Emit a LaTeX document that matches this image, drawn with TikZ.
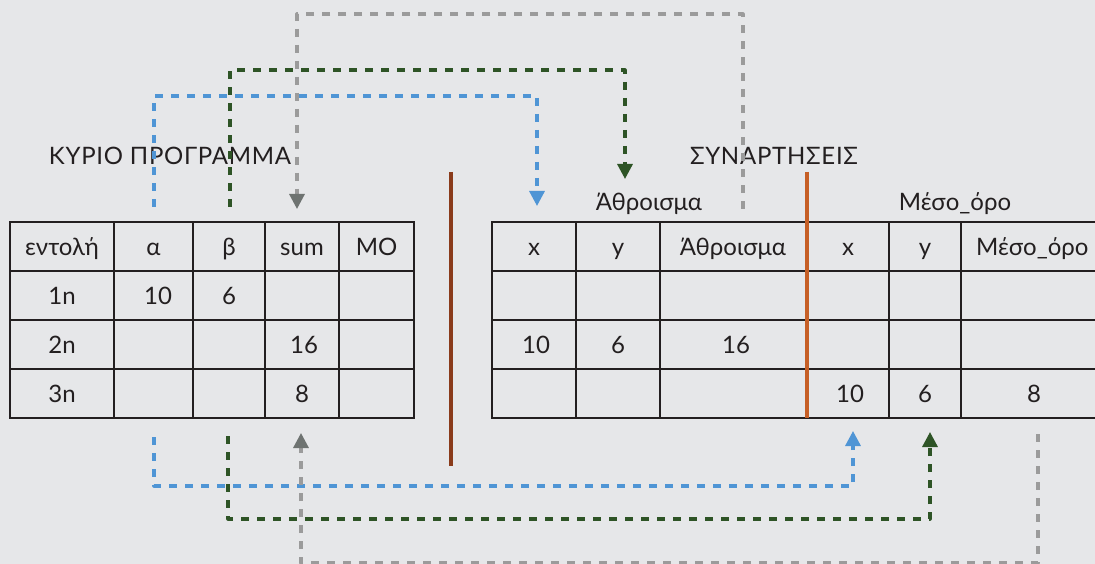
\documentclass[tikz,border=0pt]{standalone}
\usepackage{fontspec}
\setmainfont{Lato}
\usetikzlibrary{arrows.meta}
\definecolor{paper}{HTML}{E6E7E9}
\definecolor{ink}{HTML}{231F20}
\definecolor{callblue}{HTML}{4F95D5}
\definecolor{callgreen}{HTML}{2E5426}
\definecolor{retgray}{HTML}{9B9B9B}
\definecolor{retgrayhead}{HTML}{6E7371}
\definecolor{brownbar}{HTML}{8A3B1B}
\definecolor{orangebar}{HTML}{C65F26}
\tikzset{
  flow/.style={dash pattern=on 8pt off 8pt, line width=3.2pt},
  tablerule/.style={line width=2.6pt, draw=ink, line cap=rect},
  celltext/.style={inner sep=0pt, anchor=base, text=ink},
  titletext/.style={celltext, font=\fontsize{24}{28}\selectfont\addfontfeatures{LetterSpace=3}},
}
\begin{document}
\begin{tikzpicture}[x=1pt, y=-1pt, font=\fontsize{24}{28}\selectfont, line join=round]
			\useasboundingbox (0,0) rectangle (1095,564);
			\fill[paper] (0,0) rectangle (1095,564);
			\clip (0,0) rectangle (1095,564);
			\def\ytop{222}\def\ybot{418}
			% titles
			\node[titletext] (main-title) at (170,165) {ΚΥΡΙΟ ΠΡΟΓΡΑΜΜΑ};
			\node[titletext] (func-title) at (774,165) {ΣΥΝΑΡΤΗΣΕΙΣ};
			\node[celltext] (sum-title) at (649,211) {Άθροισμα};
			\node[celltext] (avg-title) at (955,211) {Μέσο\_όρο};
			% main program table
			\foreach \x in {10,114,193,265,339,414} \draw[tablerule] (\x,\ytop)--(\x,\ybot);
			\foreach \y in {222,271,320,369,418} \draw[tablerule] (10,\y)--(414,\y);
			\foreach \cx/\txt [count=\i] in {62/εντολή,153.5/α,229/β,302/sum,376.5/MO}
				\node[celltext] (main-0-\i) at (\cx,255.5) {\txt};
			\node[celltext] (main-1-1) at (62,304.5) {1n};
			\node[celltext] (main-1-2) at (158,304.5) {10};
			\node[celltext] (main-1-3) at (229,304.5) {6};
			\node[celltext] (main-2-1) at (62,353.5) {2n};
			\node[celltext] (main-2-4) at (304,353.5) {16};
			\node[celltext] (main-3-1) at (62,402.5) {3n};
			\node[celltext] (main-3-4) at (302,402.5) {8};
			% function tables
			\foreach \x in {492,576,660,889,961} \draw[tablerule] (\x,\ytop)--(\x,\ybot);
			\foreach \y in {222,271,320,369,418} \draw[tablerule] (492,\y)--(1110,\y);
			\foreach \cx/\txt [count=\i] in {534/x,618/y,733/Άθροισμα,848/x,925/y}
				\node[celltext] (func-0-\i) at (\cx,255.5) {\txt};
			\node[celltext, anchor=base west] (func-0-6) at (976,255.5) {Μέσο\_όρο};
			\node[celltext] (func-2-1) at (536,353.5) {10};
			\node[celltext] (func-2-2) at (618,353.5) {6};
			\node[celltext] (func-2-3) at (736,353.5) {16};
			\node[celltext] (func-3-4) at (850,402.5) {10};
			\node[celltext] (func-3-5) at (925,402.5) {6};
			\node[celltext] (func-3-6) at (1034,402.5) {8};
			% separators
			\draw[brownbar, line width=4.5pt] (451,172)--(451,466);
			\draw[orangebar, line width=4.5pt] (807,172)--(807,\ybot);
			% calls: arguments in
			\coordinate (blue-top) at (0,96);
			\coordinate (green-top) at (0,70);
			\coordinate (gray-top) at (0,14);
			\coordinate (blue-a) at (154,207);\coordinate (blue-x) at (537,206);
			\coordinate (green-b) at (230,207);\coordinate (green-y) at (625,179);
			\coordinate (gray-ret) at (743,209);\coordinate (gray-sum) at (297,209);
			\draw[flow, callblue, -{Triangle[length=15pt,width=15pt]}] (blue-a)--(blue-a |- blue-top) -| (blue-x);
			\draw[flow, callgreen, -{Triangle[length=15pt,width=15pt]}] (green-b)--(green-b |- green-top) -| (green-y);
			\draw[flow, retgray, -{Triangle[length=15pt,width=15pt,color=retgrayhead]}] (gray-ret)--(gray-ret |- gray-top) -| (gray-sum);
			% calls: second function
			\coordinate (blue-low) at (0,486);
			\coordinate (green-low) at (0,519);
			\coordinate (gray-low) at (0,563);
			\coordinate (blue-a2) at (154,437);\coordinate (blue-x2) at (853,431);
			\coordinate (green-b2) at (228,436);\coordinate (green-y2) at (930,432);
			\coordinate (gray-ret2) at (1038,434);\coordinate (gray-sum2) at (301,433);
			\draw[flow, callblue, -{Triangle[length=15pt,width=15pt]}] (blue-a2)--(blue-a2 |- blue-low) -| (blue-x2);
			\draw[flow, callgreen, -{Triangle[length=15pt,width=15pt]}] (green-b2)--(green-b2 |- green-low) -| (green-y2);
			\draw[flow, retgray, -{Triangle[length=15pt,width=15pt,color=retgrayhead]}] (gray-ret2)--(gray-ret2 |- gray-low) -| (gray-sum2);
\end{tikzpicture}
\end{document}
